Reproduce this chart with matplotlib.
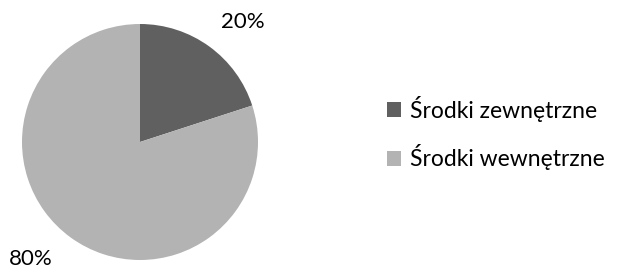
import matplotlib.pyplot as plt
from matplotlib.patches import Patch

# Data
labels = ['Środki zewnętrzne', 'Środki wewnętrzne']
values = [20, 80]
colors = ['#606060', '#b3b3b3']

plt.rcParams['font.family'] = ['Lato', 'DejaVu Sans']

fig = plt.figure(figsize=(6.19, 2.70), dpi=100)
ax = fig.add_axes([22 / 619, 10 / 270, 236 / 619, 236 / 270])

wedges, texts, autotexts = ax.pie(values, colors=colors, startangle=90, counterclock=False,
                                  radius=1, autopct='%d%%', pctdistance=1.3,
                                  textprops={'fontsize': 16})
ax.set_xlim(-1, 1)
ax.set_ylim(-1, 1)
ax.set_aspect('equal')

# push the percentage labels to where the original has them
autotexts[0].set_position((0.87, 1.02))
autotexts[1].set_position((-0.93, -0.99))
for t in autotexts:
    t.set_clip_on(False)

handles = [Patch(facecolor=c, edgecolor='none') for c in colors]
fig.legend(handles, labels, loc='center left', bbox_to_anchor=(376 / 619, 1 - 133 / 270),
           frameon=False, fontsize=16.5, handlelength=0.6, handleheight=0.6,
           handletextpad=0.4, labelspacing=1.0, borderpad=0)

fig.savefig('out.png', dpi=100)
